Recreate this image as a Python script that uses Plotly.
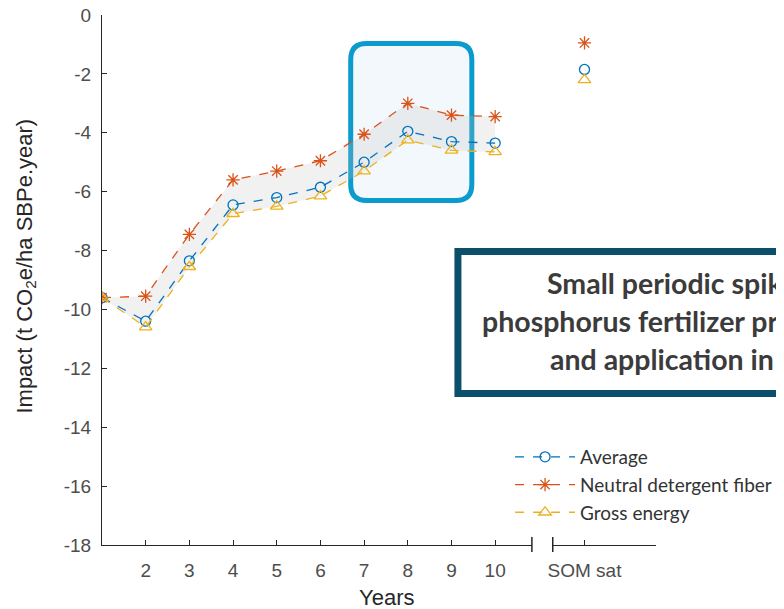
import plotly.graph_objects as go

# ---------------- data ----------------
years = [1, 2, 3, 4, 5, 6, 7, 8, 9, 10]
avg = [-9.6, -10.4, -8.35, -6.45, -6.2, -5.85, -5.0, -3.95, -4.3, -4.35]
ndf = [-9.6, -9.55, -7.45, -5.6, -5.3, -4.95, -4.05, -3.0, -3.4, -3.45]
ge = [-9.6, -10.6, -8.55, -6.75, -6.5, -6.15, -5.3, -4.25, -4.6, -4.65]

som_cat = ["SOM sat"]
som_avg = [-1.85]
som_ndf = [-0.95]
som_ge = [-2.2]

y_ticks = [0, -2, -4, -6, -8, -10, -12, -14, -16, -18]
y_ticktext = ["0", "-2", "-4", "-6", "-8", "-10", "-12", "-14", "-16", "-18"]
x_ticks = [1, 2, 3, 4, 5, 6, 7, 8, 9, 10]
x_ticktext = ["", "2", "3", "4", "5", "6", "7", "8", "9", "10"]

series_names = ["Average", "Neutral detergent fiber", "Gross energy"]
box_lines = ["Small periodic spikes due to",
             "phosphorus fertilizer production",
             "and application in year 8"]

# ---------------- layout geometry (reference page pixels) ----------------
OFF = 8                      # page body margin of the html page
PAGE_W, PAGE_H = 784, 609
W, H = PAGE_W - OFF, PAGE_H - OFF
REF_L, REF_T, REF_R, REF_B = 102, 15, 660, 545   # plot area in page pixels
PW, PH = REF_R - REF_L, REF_B - REF_T

def px(xp):
    return (xp - REF_L) / PW

def py(yp):
    return (REF_B - yp) / PH

C_AVG, C_NDF, C_GE = "#0072BD", "#D95319", "#EDB120"
AX = "#262626"
TICKF = dict(family="Liberation Sans, Arial", size=19, color="#4d4d4d")

fig = go.Figure()

# band between NDF and GE
fig.add_trace(go.Scatter(
    x=years + years[::-1], y=ndf + ge[::-1], fill="toself",
    fillcolor="rgba(190,190,190,0.22)", line=dict(width=0), mode="lines",
    showlegend=False, hoverinfo="skip", xaxis="x", yaxis="y"))

specs = [(avg, som_avg, C_AVG, "circle-open", 10),
         (ndf, som_ndf, C_NDF, "asterisk-open", 11),
         (ge, som_ge, C_GE, "triangle-up-open", 11)]
for name, (vals, svals, col, sym, sz) in zip(series_names, specs):
    fig.add_trace(go.Scatter(
        x=years, y=vals, name=name, mode="lines+markers",
        line=dict(color=col, width=1.3, dash="dash"),
        marker=dict(symbol=sym, size=sz, color=col, line=dict(color=col, width=1.3)),
        xaxis="x", yaxis="y"))
    fig.add_trace(go.Scatter(
        x=som_cat, y=svals, name=name, mode="markers", showlegend=False,
        marker=dict(symbol=sym, size=sz, color=col, line=dict(color=col, width=1.3)),
        xaxis="x2", yaxis="y"))

d1 = px(535)
d2 = px(556)

common = dict(ticks="inside", ticklen=5, tickcolor=AX, showline=True, linecolor=AX,
              linewidth=1, showgrid=False, zeroline=False, tickfont=TICKF,
              automargin=False, ticklabeloverflow="allow")

fig.update_layout(
    width=W, height=H,
    margin=dict(l=REF_L - OFF, r=PAGE_W - REF_R, t=REF_T - OFF, b=PAGE_H - REF_B, pad=0),
    paper_bgcolor="white", plot_bgcolor="rgba(0,0,0,0)",
    xaxis=dict(domain=[0, d1], range=[1, 1 + (535 - REF_L) / 44.0],
               tickvals=x_ticks, ticktext=x_ticktext, anchor="y",
               ticklabelstandoff=8, **common),
    xaxis2=dict(domain=[d2, 1], type="category", categoryarray=som_cat,
                range=[-(588 - 556) / 44.0, (660 - 588) / 44.0], anchor="y",
                ticklabelstandoff=8, **common),
    yaxis=dict(domain=[0, 1], range=[-18, 0], tickvals=y_ticks, ticktext=y_ticktext,
               ticklabelstandoff=6, **common),
    showlegend=True,
    legend=dict(x=px(513), y=py(438), xanchor="left", yanchor="top",
                bgcolor="rgba(0,0,0,0)", itemwidth=60, tracegroupgap=0,
                font=dict(family="Lato", size=19, color="#333333")),
)

# axis titles
fig.add_annotation(text="Impact (t CO<sub>2</sub>e/ha SBPe.year)", xref="paper",
                   yref="paper", x=px(25), y=py(266), textangle=-90, showarrow=False,
                   xanchor="center", yanchor="middle",
                   font=dict(family="Liberation Sans, Arial", size=22, color=AX))
fig.add_annotation(text="Years", xref="paper", yref="paper", x=px(389), y=py(597),
                   showarrow=False, xanchor="center", yanchor="middle",
                   font=dict(family="Liberation Sans, Arial", size=22, color=AX))

# axis break marks
for xb in (d1, d2):
    fig.add_shape(type="line", xref="paper", yref="paper", x0=xb, x1=xb,
                  y0=py(552), y1=py(537), line=dict(color=AX, width=1.5))

# highlight rounded rectangle (blue)
x0, x1, y0, y1 = px(352.5), px(474.5), py(43.5), py(200.5)
rx, ry = 16 / PW, 16 / PH
path = (f"M {x0+rx},{y0} L {x1-rx},{y0} Q {x1},{y0} {x1},{y0-ry} "
        f"L {x1},{y1+ry} Q {x1},{y1} {x1-rx},{y1} L {x0+rx},{y1} "
        f"Q {x0},{y1} {x0},{y1+ry} L {x0},{y0-ry} Q {x0},{y0} {x0+rx},{y0} Z")
fig.add_shape(type="path", path=path, xref="paper", yref="paper",
              fillcolor="#f3f8fc", line=dict(color="#0b9bcc", width=5), layer="below")

# dark text box
fig.add_shape(type="rect", xref="paper", yref="paper", x0=px(460.5), x1=px(830),
              y0=py(251.5), y1=py(393.5), fillcolor="white",
              line=dict(color="#0b4f6b", width=7), layer="above")
for i, (txt, xs) in enumerate(zip(box_lines, [548, 483, 551])):
    fig.add_annotation(text=txt, xref="paper", yref="paper", x=px(xs),
                       y=py(283 + 38 * i), xanchor="left", yanchor="middle",
                       showarrow=False,
                       font=dict(family="Lato", size=28.5, color="#3b3b3b", weight="bold"))

fig.write_html("out.html")
